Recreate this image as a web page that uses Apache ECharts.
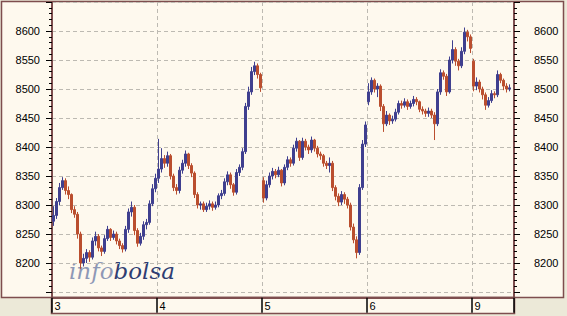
<!DOCTYPE html>
<html>
<head>
<meta charset="utf-8">
<script src="https://cdn.jsdelivr.net/npm/echarts@6/dist/echarts.min.js"></script>
<style>html,body{margin:0;padding:0;background:#ECE9D8;}#c{width:567px;height:316px;}</style>
</head>
<body>
<div id="c"></div>
<script>
// Day labels and number of intraday slots per day (3 px each)
const dayLabels = ['3', '4', '5', '6', '9'];
const slotsPerDay = [35, 35, 35, 35, 14];
// Y tick labels
const yTicks = [8200, 8250, 8300, 8350, 8400, 8450, 8500, 8550, 8600];

// OHLC bars: [open, close, low, high]
const day3 = [
  [8272,8282,8264,8298],[8282,8306,8276,8312],[8306,8330,8300,8338],[8330,8342,8326,8348],
  [8342,8325,8318,8346],[8325,8318,8310,8332],[8318,8292,8286,8320],[8292,8284,8278,8298],
  [8284,8250,8242,8288],[8250,8200,8190,8254],[8200,8208,8194,8216],[8208,8218,8200,8224],
  [8218,8210,8202,8222],[8210,8238,8206,8244],[8238,8246,8230,8254],[8246,8226,8220,8250],
  [8226,8220,8212,8230],[8220,8242,8216,8248],[8242,8258,8238,8264],[8258,8244,8238,8260],
  [8244,8250,8240,8256],[8250,8238,8232,8254],[8238,8230,8224,8242],[8230,8224,8218,8234],
  [8224,8258,8220,8264],[8258,8288,8252,8294],[8288,8296,8280,8306],[8296,8256,8248,8300],
  [8256,8234,8228,8260],[8234,8246,8230,8252],[8246,8266,8240,8272],[8266,8270,8258,8276],
  [8270,8302,8266,8308],[8302,8328,8298,8336],[8328,8346,8322,8354]
];
const day4 = [
  [8346,8362,8338,8414],[8362,8380,8356,8398],[8380,8372,8364,8386],[8372,8385,8366,8392],
  [8385,8350,8344,8388],[8350,8330,8324,8354],[8330,8325,8318,8336],[8325,8360,8320,8366],
  [8360,8372,8354,8378],[8372,8388,8366,8394],[8388,8368,8362,8390],[8368,8355,8348,8372],
  [8355,8318,8312,8358],[8318,8300,8294,8322],[8300,8302,8292,8306],[8302,8292,8288,8306],
  [8292,8298,8288,8304],[8298,8302,8292,8308],[8302,8296,8290,8306],[8296,8300,8292,8306],
  [8300,8316,8296,8320],[8316,8320,8310,8326],[8320,8340,8316,8346],[8340,8352,8334,8358],
  [8352,8335,8328,8356],[8335,8322,8316,8338],[8322,8356,8318,8362],[8356,8365,8350,8370],
  [8365,8392,8360,8398],[8392,8470,8388,8476],[8470,8495,8464,8504],[8495,8530,8490,8538],
  [8530,8540,8524,8547],[8540,8525,8518,8544],[8525,8502,8495,8528]
];
const day5 = [
  [8342,8312,8304,8348],[8312,8335,8308,8342],[8335,8350,8330,8356],[8350,8358,8344,8364],
  [8358,8352,8346,8362],[8352,8360,8348,8366],[8360,8338,8332,8362],[8338,8365,8334,8370],
  [8365,8378,8360,8384],[8378,8372,8366,8382],[8372,8398,8368,8404],[8398,8410,8392,8416],
  [8410,8382,8376,8412],[8382,8410,8378,8416],[8410,8400,8394,8414],[8400,8395,8388,8404],
  [8395,8412,8390,8418],[8412,8398,8392,8414],[8398,8388,8382,8402],[8388,8385,8378,8392],
  [8385,8372,8366,8388],[8372,8368,8362,8376],[8368,8372,8356,8382],[8372,8330,8324,8376],
  [8330,8315,8308,8334],[8315,8305,8298,8320],[8305,8318,8300,8324],[8318,8310,8302,8322],
  [8310,8300,8294,8314],[8300,8262,8256,8304],[8262,8240,8234,8268],[8240,8218,8208,8246],
  [8218,8330,8214,8336],[8330,8405,8326,8412],[8405,8438,8400,8444]
];
const day6 = [
  [8478,8495,8472,8510],[8495,8515,8490,8520],[8515,8500,8494,8518],[8500,8505,8486,8510],
  [8505,8470,8462,8508],[8470,8440,8426,8474],[8440,8455,8436,8462],[8455,8445,8438,8458],
  [8445,8448,8440,8454],[8448,8460,8444,8466],[8460,8475,8456,8480],[8475,8472,8466,8480],
  [8472,8478,8468,8484],[8478,8470,8464,8482],[8470,8475,8466,8480],[8475,8482,8470,8488],
  [8482,8478,8472,8486],[8478,8465,8460,8480],[8465,8462,8456,8470],[8462,8458,8452,8466],
  [8458,8462,8452,8468],[8462,8455,8450,8466],[8455,8440,8412,8460],[8440,8495,8436,8500],
  [8495,8528,8490,8534],[8528,8522,8516,8532],[8522,8495,8488,8526],[8495,8550,8492,8556],
  [8550,8568,8544,8584],[8568,8548,8540,8572],[8548,8540,8532,8552],[8540,8565,8536,8572],
  [8565,8598,8560,8606],[8598,8590,8582,8602],[8590,8570,8562,8594]
];
const day9 = [
  [8548,8505,8496,8552],[8505,8512,8498,8520],[8512,8500,8494,8516],[8500,8490,8482,8504],
  [8490,8472,8464,8494],[8472,8480,8468,8486],[8480,8492,8476,8498],[8492,8490,8484,8496],
  [8490,8525,8486,8532],[8525,8515,8510,8528],[8515,8505,8498,8518],[8505,8500,8494,8510],
  [8500,8502,8496,8508]
];

const bars = [].concat(day3, day4, day5, day6, day9);
const categories = [];
const dayStart = {};
let k = 0;
dayLabels.forEach((d, di) => {
  dayStart[k] = d;
  for (let i = 0; i < slotsPerDay[di]; i++) { categories.push(d + '-' + i); k++; }
});

const cream = '#FEF9EE';
const brown = '#7E4E4E';
const gridCol = '#BDBAB2';
const font = 'Arial, "Liberation Sans", sans-serif';

const chart = echarts.init(document.getElementById('c'), null, {renderer: 'svg'});
chart.setOption({
  backgroundColor: '#ECE9D8',
  animation: false,
  graphic: [
    {type: 'rect', z: -10, shape: {x: 1.5, y: 1.5, width: 562, height: 296},
     style: {fill: cream, stroke: brown, lineWidth: 1.5}},
    {type: 'rect', z: -10, shape: {x: 51.5, y: 297.5, width: 463, height: 16},
     style: {fill: cream, stroke: brown, lineWidth: 1.5}},
    {type: 'text', z: -5, x: 69, y: 271,
     style: {text: '{a|info}{b|bolsa}', verticalAlign: 'middle',
       rich: {
         a: {fill: '#8E98B6', font: 'italic 23px "DejaVu Serif", serif'},
         b: {fill: '#2F3D72', font: 'italic 23px "DejaVu Serif", serif'}
       }}}
  ],
  grid: [
    {left: 52, right: 53, top: 2, bottom: 18.2},
    {left: 52, right: 53, top: 2, bottom: 24}
  ],
  xAxis: [
    {type: 'category', gridIndex: 0, data: categories, boundaryGap: true,
     axisLine: {lineStyle: {color: brown, width: 2}},
     axisTick: {show: true, interval: (i) => i % 35 === 0, length: 15, lineStyle: {color: '#000', width: 1.5}},
     axisLabel: {interval: (i) => i % 35 === 0, formatter: (v, i) => dayStart[i] || '',
       align: 'left', padding: [0, 0, 0, 1], margin: 3, color: '#000', fontSize: 11, fontFamily: font},
     splitLine: {show: true, interval: (i) => i % 35 === 0 && i > 0,
       lineStyle: {color: gridCol, type: [4, 3], width: 1}}},
    {type: 'value', gridIndex: 1, show: false, min: 0, max: 1}
  ],
  yAxis: [
    {type: 'value', gridIndex: 0, position: 'left', min: 8140, max: 8650,
     axisLine: {show: true, lineStyle: {color: brown, width: 2}},
     axisTick: {show: false}, axisLabel: {show: false}, splitLine: {show: false}},
    {type: 'value', gridIndex: 0, position: 'right', min: 8140, max: 8650,
     axisLine: {show: true, lineStyle: {color: brown, width: 2}},
     axisTick: {show: false}, axisLabel: {show: false}, splitLine: {show: false}},
    {type: 'value', gridIndex: 1, position: 'left', min: 8150, max: 8650, interval: 50,
     axisLine: {show: false},
     axisTick: {show: true, length: 6, lineStyle: {color: '#000'}},
     minorTick: {show: true, splitNumber: 5, length: 3, lineStyle: {color: '#000'}},
     axisLabel: {margin: 12, color: '#000', fontSize: 11, fontFamily: font,
       formatter: (v) => yTicks.indexOf(v) >= 0 ? String(v) : ''},
     splitLine: {show: true, lineStyle: {color: gridCol, type: [4, 3], width: 1}}},
    {type: 'value', gridIndex: 1, position: 'right', min: 8150, max: 8650, interval: 50,
     axisLine: {show: false},
     axisTick: {show: true, length: 6, lineStyle: {color: '#000'}},
     minorTick: {show: true, splitNumber: 5, length: 3, lineStyle: {color: '#000'}},
     axisLabel: {margin: 20, color: '#000', fontSize: 11, fontFamily: font,
       formatter: (v) => yTicks.indexOf(v) >= 0 ? String(v) : ''},
     splitLine: {show: false}}
  ],
  series: [{
    type: 'candlestick', xAxisIndex: 0, yAxisIndex: 0, data: bars,
    barWidth: 2,
    itemStyle: {color: '#3F3F8F', color0: '#BA4E2E', borderColor: '#3F3F8F', borderColor0: '#BA4E2E', borderWidth: 1}
  }]
});
</script>
</body>
</html>
